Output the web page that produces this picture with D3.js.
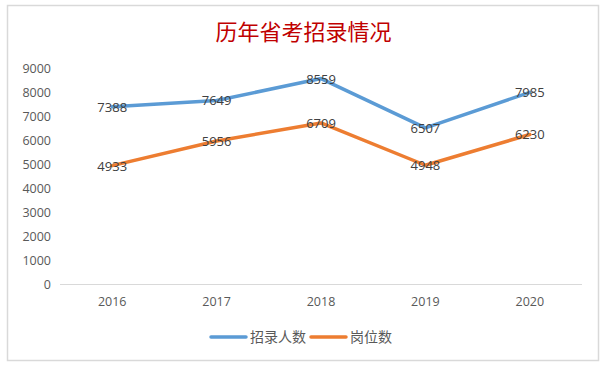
<!DOCTYPE html>
<html><head><meta charset="utf-8">
<script src="https://cdn.jsdelivr.net/npm/d3@7"></script>
<style>
body{margin:0;background:#fff;}
svg{display:block;}
</style></head>
<body>
<svg id="c" width="604" height="367"></svg>
<script>
const title = "历年省考招录情况";
const years = ["2016","2017","2018","2019","2020"];
const seriesNames = ["招录人数","岗位数"];
const recruits = [7388,7649,8559,6507,7985];
const positions = [4933,5956,6709,4948,6230];
const yTicks = [0,1000,2000,3000,4000,5000,6000,7000,8000,9000];
const colors = ["#5b9bd5","#ed7d31"];

const svg = d3.select("#c");
svg.append("rect").attr("x",7.5).attr("y",5.5).attr("width",591).attr("height",355)
  .attr("fill","#fff").attr("stroke","#d9d9d9").attr("stroke-width",1.5);

svg.append("text").attr("x",303.5).attr("y",40).attr("text-anchor","middle")
  .attr("font-family","'Noto Sans CJK SC'").attr("font-size",22).attr("fill","#c00000")
  .text(title);

const x = d3.scaleBand().domain(years).range([60,582]);
const y = d3.scaleLinear().domain([0,9000]).range([284,68]);

const font = "'Open Sans', 'Liberation Sans', sans-serif";

// baseline
svg.append("line").attr("x1",60).attr("x2",582).attr("y1",y(0)+0.5).attr("y2",y(0)+0.5)
  .attr("stroke","#d9d9d9").attr("stroke-width",1);

const yAxis = svg.append("g").attr("transform","translate(51,0)")
  .call(d3.axisLeft(y).tickValues(yTicks).tickSize(0).tickPadding(0).tickFormat(d3.format("d")));
yAxis.select(".domain").remove();
yAxis.selectAll("text").attr("font-family",font).attr("font-size",12.5).attr("fill","#595959");

const xAxis = svg.append("g").attr("transform",`translate(0,${y(0)})`)
  .call(d3.axisBottom(x).tickSize(0).tickPadding(13));
xAxis.select(".domain").remove();
xAxis.selectAll("text").attr("font-family",font).attr("font-size",12.5).attr("fill","#595959");

const series = [recruits, positions];
const line = d3.line().x((d,i)=>x(years[i])+x.bandwidth()/2).y(d=>y(d));
series.forEach((s,k)=>{
  svg.append("path").datum(s).attr("d",line).attr("fill","none")
    .attr("stroke",colors[k]).attr("stroke-width",3.5).attr("stroke-linejoin","round").attr("stroke-linecap","round");
});
series.forEach((s,k)=>{
  svg.append("g").selectAll("text").data(s).join("text")
    .attr("x",(d,i)=>x(years[i])+x.bandwidth()/2)
    .attr("y",d=>y(d)+5)
    .attr("text-anchor","middle")
    .attr("font-family",font).attr("font-size",13).attr("fill","#404040")
    .text(d=>d);
});

// legend
const legend = [{x:211,w:35,tx:250},{x:311,w:35,tx:350}];
legend.forEach((l,k)=>{
  svg.append("line").attr("x1",l.x).attr("x2",l.x+l.w).attr("y1",337).attr("y2",337)
    .attr("stroke",colors[k]).attr("stroke-width",3.5).attr("stroke-linecap","round");
  svg.append("text").attr("x",l.tx).attr("y",342).attr("font-family","'Noto Sans CJK SC'")
    .attr("font-size",14).attr("fill","#595959").text(seriesNames[k]);
});
</script>
</body></html>
